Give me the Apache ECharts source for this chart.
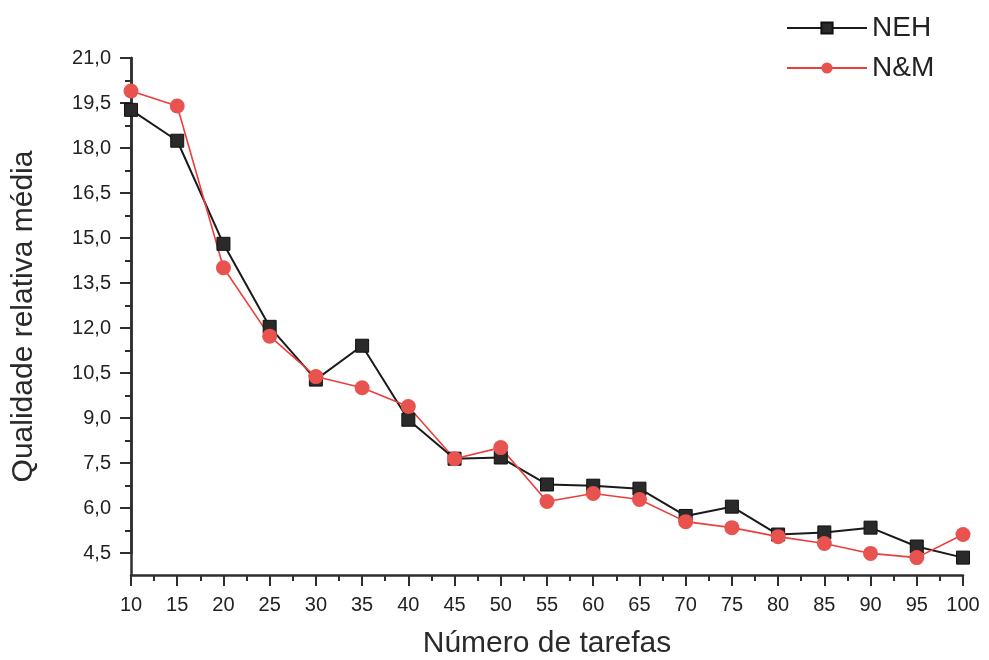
<!DOCTYPE html>
<html>
<head>
<meta charset="utf-8">
<script src="https://cdn.jsdelivr.net/npm/echarts@6/dist/echarts.min.js"></script>
<style>
html,body{margin:0;padding:0;background:#fff;}
#chart{width:989px;height:660px;}
</style>
</head>
<body>
<div id="chart"></div>
<script>
const tarefas = [10,15,20,25,30,35,40,45,50,55,60,65,70,75,80,85,90,95,100];
const neh = [19.27,18.24,14.8,12.03,10.27,11.4,8.93,7.63,7.67,6.77,6.73,6.63,5.72,6.03,5.1,5.17,5.33,4.7,4.33];
const nm  = [19.9,19.4,14.0,11.72,10.37,10.0,9.37,7.63,8.0,6.2,6.47,6.27,5.53,5.33,5.03,4.8,4.47,4.33,5.1];
const seriesNames = ['NEH','N&M'];
const xTitle = 'Número de tarefas';
const yTitle = 'Qualidade relativa média';

const pairs = (ys) => tarefas.map((x,i)=>[x, ys[i]]);
const fmt = v => v.toFixed(1).replace('.', ',');
const axisCol = '#2e2e2e';
const font = 'Liberation Sans, Arial, sans-serif';

const chart = echarts.init(document.getElementById('chart'), null, {renderer:'canvas'});
chart.setOption({
  animation:false,
  backgroundColor:'#fff',
  textStyle:{fontFamily:font},
  legend:{
    orient:'vertical', left:781, top:9, itemWidth:80, itemHeight:14, itemGap:12,
    textStyle:{fontSize:28, color:'#222', fontFamily:font},
    data:seriesNames
  },
  grid:[
    {left:131, right:26, top:58, bottom:85, containLabel:false, outerBoundsMode:'none'},
    {left:131, right:26, top:58, bottom:107, containLabel:false, outerBoundsMode:'none'}
  ],
  xAxis:[
    {type:'value', gridIndex:0, min:10, max:100, interval:5,
     name:xTitle, nameLocation:'middle', nameGap:54,
     nameTextStyle:{fontSize:30, color:'#2a2a2a', fontFamily:font},
     axisLine:{lineStyle:{color:axisCol, width:2.5}},
     axisTick:{length:11, lineStyle:{color:axisCol, width:2}},
     minorTick:{show:true, splitNumber:2, length:6, lineStyle:{color:axisCol, width:2}},
     splitLine:{show:false}, minorSplitLine:{show:false},
     axisLabel:{fontSize:20, color:'#222', margin:20, fontFamily:font}},
    {type:'value', gridIndex:1, min:10, max:100, interval:5, show:false}
  ],
  yAxis:[
    {type:'value', gridIndex:0, min:3.75, max:21, interval:0.75,
     name:yTitle, nameLocation:'middle', nameGap:92,
     nameTextStyle:{fontSize:30, color:'#2a2a2a', fontFamily:font},
     axisLine:{show:true, lineStyle:{color:axisCol, width:2.5}},
     axisTick:{show:false}, axisLabel:{show:false}, splitLine:{show:false}},
    {type:'value', gridIndex:1, min:4.5, max:21, interval:1.5,
     axisLine:{show:true, lineStyle:{color:axisCol, width:2.5}},
     axisTick:{length:11, lineStyle:{color:axisCol, width:2}},
     minorTick:{show:true, splitNumber:2, length:6, lineStyle:{color:axisCol, width:2}},
     splitLine:{show:false}, minorSplitLine:{show:false},
     axisLabel:{fontSize:20, color:'#222', margin:20, formatter:fmt, fontFamily:font}}
  ],
  series:[
    {name:seriesNames[0], type:'line', xAxisIndex:0, yAxisIndex:0, data:pairs(neh),
     symbol:'rect', symbolSize:13, color:'#2a2a2a',
     itemStyle:{color:'#2a2a2a', borderColor:'#111', borderWidth:1},
     lineStyle:{color:'#1a1a1a', width:2}},
    {name:seriesNames[1], type:'line', xAxisIndex:0, yAxisIndex:0, data:pairs(nm),
     symbol:'circle', symbolSize:15, color:'#e8534f',
     itemStyle:{color:'#e8534f'},
     lineStyle:{color:'#ea3f3a', width:1.6}}
  ]
});
</script>
</body>
</html>
